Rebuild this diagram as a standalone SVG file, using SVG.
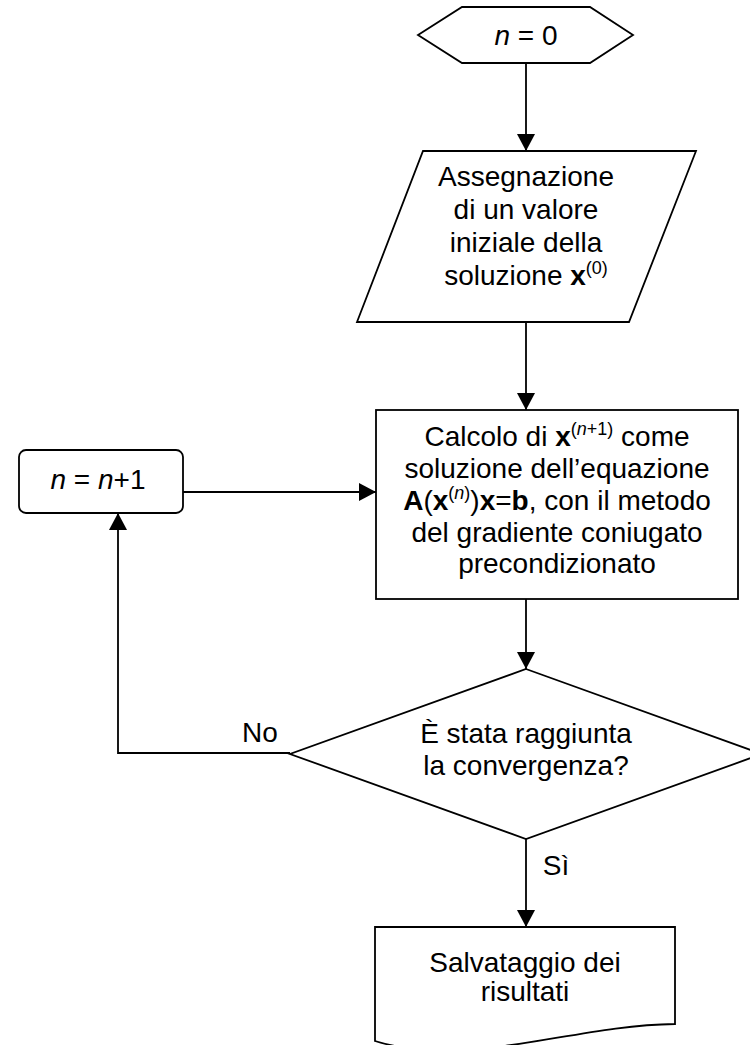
<svg xmlns="http://www.w3.org/2000/svg" width="750" height="1045" viewBox="0 0 750 1045">
  <style>
    .shape { fill: #ffffff; stroke: #000000; stroke-width: 1.8; stroke-linejoin: miter; }
    .wire { fill: none; stroke: #000000; stroke-width: 1.8; }
    .t { font-family: "Liberation Sans", Arial, sans-serif; font-size: 28px; fill: #000000; text-anchor: middle; }
    .b { font-weight: bold; }
    .i { font-style: italic; }
    .sup { font-size: 18px; }
  </style>
  <defs>
    <marker id="arrow" markerUnits="userSpaceOnUse" markerWidth="18" markerHeight="18" refX="17" refY="9" orient="auto">
      <path d="M0,0 L17,9 L0,18 Z" fill="#000000"/>
    </marker>
  </defs>

  <!-- connectors -->
  <g id="connectors">
    <line class="wire" x1="526" y1="63" x2="526" y2="151" marker-end="url(#arrow)"/>
    <line class="wire" x1="526" y1="322" x2="526" y2="410" marker-end="url(#arrow)"/>
    <line class="wire" x1="183" y1="492" x2="376" y2="492" marker-end="url(#arrow)"/>
    <line class="wire" x1="526" y1="599" x2="526" y2="669" marker-end="url(#arrow)"/>
    <polyline class="wire" points="290,753 118,753 118,513" marker-end="url(#arrow)"/>
    <line class="wire" x1="526" y1="839" x2="526" y2="927" marker-end="url(#arrow)"/>
    <text class="t" x="260" y="742">No</text>
    <text class="t" x="556" y="875">Sì</text>
  </g>

  <!-- start: n = 0 -->
  <g id="start">
    <polygon class="shape" points="418,35 462,7 590,7 633,35 590,63 462,63"/>
    <text class="t" x="526" y="45"><tspan class="i">n</tspan> = 0</text>
  </g>

  <!-- initial value input -->
  <g id="init">
    <polygon class="shape" points="423,151 696,151 629,322 357,322"/>
    <text class="t" x="526" y="186">Assegnazione</text>
    <text class="t" x="526" y="219">di un valore</text>
    <text class="t" x="526" y="252">iniziale della</text>
    <text class="t" x="526" y="285">soluzione <tspan class="b">x</tspan><tspan class="sup" dy="-11">(0)</tspan></text>
  </g>

  <!-- solve step -->
  <g id="solve">
    <rect class="shape" x="376" y="410" width="362" height="189"/>
    <text class="t" x="557" y="446">Calcolo di <tspan class="b">x</tspan><tspan class="sup" dy="-11">(<tspan class="i">n</tspan>+1)</tspan><tspan dy="11"> come</tspan></text>
    <text class="t" x="557" y="478">soluzione dell’equazione</text>
    <text class="t" x="557" y="510"><tspan class="b">A</tspan>(<tspan class="b">x</tspan><tspan class="sup" dy="-11">(<tspan class="i">n</tspan>)</tspan><tspan dy="11">)</tspan><tspan class="b">x</tspan>=<tspan class="b">b</tspan>, con il metodo</text>
    <text class="t" x="557" y="542">del gradiente coniugato</text>
    <text class="t" x="557" y="573">precondizionato</text>
  </g>

  <!-- increment -->
  <g id="increment">
    <rect class="shape" x="19" y="450" width="164" height="63" rx="7" ry="7"/>
    <text class="t" x="98" y="489"><tspan class="i">n</tspan> = <tspan class="i">n</tspan>+1</text>
  </g>

  <!-- convergence test -->
  <g id="check">
    <polygon class="shape" points="526,669 762,754 526,839 290,754"/>
    <text class="t" x="526" y="743">È stata raggiunta</text>
    <text class="t" x="526" y="775">la convergenza?</text>
  </g>

  <!-- save results -->
  <g id="save">
    <path class="shape" d="M375,927 L675,927 L675,1024 C570,1025 470,1070 375,1041 Z"/>
    <text class="t" x="525" y="972">Salvataggio dei</text>
    <text class="t" x="525" y="1001">risultati</text>
  </g>
</svg>
